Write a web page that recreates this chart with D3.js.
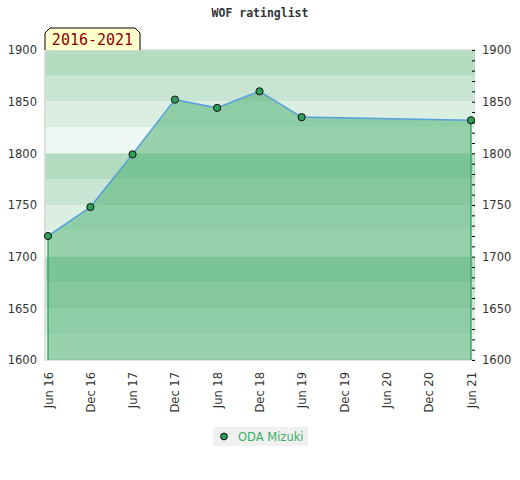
<!DOCTYPE html>
<html>
<head>
<meta charset="utf-8">
<script src="https://cdn.jsdelivr.net/npm/d3@7.9.0/dist/d3.min.js"></script>
<style>
  body { margin: 0; background: #fff; }
  svg { display: block; font-family: "DejaVu Sans", sans-serif; }
</style>
</head>
<body>
<svg id="chart" width="520" height="480"></svg>
<script>
const player = 'ODA Mizuki';
const period = '2016-2021';
const dates = ['2016-06', '2016-12', '2017-06', '2017-12', '2018-06', '2018-12', '2019-06', '2021-06'];
const ratings = [1720, 1748, 1799, 1852, 1844, 1860, 1835, 1832];
const tickDates = ['2016-06', '2016-12', '2017-06', '2017-12', '2018-06', '2018-12',
                   '2019-06', '2019-12', '2020-06', '2020-12', '2021-06'];
const yTicks = [1600, 1650, 1700, 1750, 1800, 1850, 1900];

const parse = d3.timeParse('%Y-%m');
const fmt = d3.timeFormat('%b %y');
const data = dates.map((d, i) => ({ date: parse(d), value: ratings[i] }));

const svg = d3.select('#chart');
const box = { left: 45, right: 475, top: 50, bottom: 360 };

const x = d3.scaleTime()
  .domain([parse(tickDates[0]), parse(tickDates[tickDates.length - 1])])
  .range([box.left + 3, box.right - 4]);
const y = d3.scaleLinear().domain([1600, 1900]).range([box.bottom, box.top]);

// title
svg.append('text')
  .attr('x', 260).attr('y', 17)
  .attr('text-anchor', 'middle')
  .style('font-family', '"DejaVu Sans Mono", monospace')
  .style('font-weight', 'bold')
  .style('font-size', '11.5px')
  .attr('fill', '#333')
  .text('WOF ratinglist');

// background bands, 25 points each
const bandShades = ['#b3dcc1', '#c8e5d3', '#dbeee2', '#eef7f1'];
const bands = d3.range(1900, 1600, -25);
svg.append('g').selectAll('rect')
  .data(bands)
  .join('rect')
  .attr('x', box.left)
  .attr('width', box.right - box.left)
  .attr('y', d => y(d))
  .attr('height', d => y(d - 25) - y(d))
  .attr('fill', (d, i) => bandShades[i % 4]);

// frame
svg.append('path')
  .attr('d', `M${box.right},${box.top}H${box.left}V${box.bottom}H${box.right}`)
  .attr('fill', 'none')
  .attr('stroke', '#d6d6d6')
  .attr('stroke-width', 1.5);

// area
const area = d3.area()
  .x(d => x(d.date))
  .y0(y(1600))
  .y1(d => y(d.value));
svg.append('path')
  .datum(data)
  .attr('d', area)
  .attr('fill', 'rgba(67,172,105,0.5)');

const first = data[0], last = data[data.length - 1];
svg.append('g').selectAll('line')
  .data([first, last])
  .join('line')
  .attr('x1', d => x(d.date)).attr('x2', d => x(d.date))
  .attr('y1', d => y(d.value)).attr('y2', y(1600))
  .attr('stroke', '#2ca25f')
  .attr('stroke-width', 1.3);

// line
svg.append('path')
  .datum(data)
  .attr('d', d3.line().x(d => x(d.date)).y(d => y(d.value)))
  .attr('fill', 'none')
  .attr('stroke', '#5ba3d9')
  .attr('stroke-width', 1.6);

// points
svg.append('g').selectAll('circle')
  .data(data)
  .join('circle')
  .attr('cx', d => x(d.date))
  .attr('cy', d => y(d.value))
  .attr('r', 3.6)
  .attr('fill', '#2e9e58')
  .attr('stroke', '#111')
  .attr('stroke-width', 1);

// left axis labels
const leftAxis = svg.append('g')
  .attr('transform', `translate(${box.left},0)`)
  .call(d3.axisLeft(y).tickValues(yTicks).tickSize(0).tickPadding(8).tickFormat(d3.format('d')));
leftAxis.select('.domain').remove();

// right axis labels
const rightAxis = svg.append('g')
  .attr('transform', `translate(${box.right},0)`)
  .call(d3.axisRight(y).tickValues(yTicks).tickSize(0).tickPadding(7).tickFormat(d3.format('d')));
rightAxis.select('.domain').remove();

// minor ticks on the right edge
svg.append('g')
  .attr('transform', `translate(${box.right},0)`)
  .call(d3.axisLeft(y).ticks(30).tickSize(3).tickFormat(''))
  .call(g => g.select('.domain').remove())
  .selectAll('line').attr('stroke', '#000');

[leftAxis, rightAxis].forEach(g => g.selectAll('text')
  .attr('fill', '#333')
  .style('font-size', '11.5px')
  .style('font-family', '"DejaVu Sans", sans-serif'));

// x axis labels
const xAxis = svg.append('g')
  .attr('transform', `translate(0,${box.bottom})`)
  .call(d3.axisBottom(x).tickValues(tickDates.map(parse)).tickSize(0).tickFormat(fmt));
xAxis.select('.domain').remove();
xAxis.selectAll('text')
  .attr('transform', 'rotate(-90)')
  .attr('text-anchor', 'end')
  .attr('x', -12)
  .attr('y', 0)
  .attr('dy', '0.35em')
  .attr('fill', '#333')
  .style('font-size', '11.5px')
  .style('font-family', '"DejaVu Sans", sans-serif');

// period tag
const tag = svg.append('g');
tag.append('path')
  .attr('d', `M${box.left},${box.top}V${box.top - 17}L${box.left + 5},${box.top - 22}H${box.left + 90}L${box.left + 95},${box.top - 17}V${box.top}`)
  .attr('fill', '#ffffcc')
  .attr('stroke', '#000')
  .attr('stroke-width', 1);
tag.append('text')
  .attr('x', box.left + 47.5)
  .attr('y', box.top - 5)
  .attr('text-anchor', 'middle')
  .style('font-family', '"DejaVu Sans Mono", monospace')
  .style('font-size', '15px')
  .attr('fill', '#8b0000')
  .text(period);

// legend
const legend = svg.append('g').attr('transform', 'translate(213,427)');
legend.append('rect')
  .attr('width', 95).attr('height', 19)
  .attr('fill', '#f0f0f0');
legend.append('circle')
  .attr('cx', 11).attr('cy', 9.5).attr('r', 3.4)
  .attr('fill', '#2e9e58').attr('stroke', '#111');
legend.append('text')
  .attr('x', 25).attr('y', 13.5)
  .style('font-size', '11.5px')
  .attr('fill', '#3cae64')
  .text(player);
</script>
</body>
</html>
